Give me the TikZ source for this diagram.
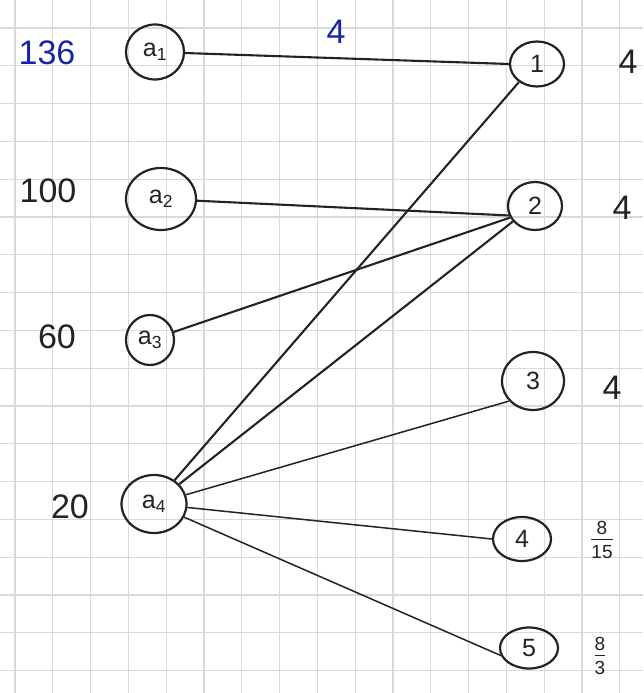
\documentclass[tikz,border=0pt]{standalone}
\usepackage{fontspec}
\setmainfont{Liberation Sans}
\usetikzlibrary{shapes.geometric}
\definecolor{gridc}{RGB}{214,218,224}
\definecolor{ink}{RGB}{35,35,35}
\definecolor{blueink}{RGB}{25,35,165}
\begin{document}
\begin{tikzpicture}[x=1pt,y=-1pt,
  vert/.style={draw=ink, ellipse, line width=2.2pt, inner sep=0pt, text=ink, font=\fontsize{25}{27}\selectfont},
  edge/.style={draw=ink, line width=2.1pt},
  thinedge/.style={draw=ink, line width=1.5pt},
  lab/.style={text=ink, font=\fontsize{34}{38}\selectfont},
  bluelab/.style={text=blueink, font=\fontsize{34}{38}\selectfont},
  fraclab/.style={text=ink, font=\fontsize{19}{21}\selectfont, inner sep=0pt},
  gridline/.style={draw=gridc, line width=1.3pt}
]
\useasboundingbox (0,0) rectangle (643,693);
\fill[white] (0,0) rectangle (643,693);
\foreach \k in {0,...,16} \draw[gridline] ({15+37.8*\k},0) -- ({15+37.8*\k},693);
\foreach \k in {0,...,17} \draw[gridline] (0,{28+37.8*\k}) -- (643,{28+37.8*\k});

% left vertices
\node[vert, minimum width=58, minimum height=55] (a1) at (155,52) {a\textsubscript{1}};
\node[vert, minimum width=70, minimum height=62] (a2) at (161,199) {a\textsubscript{2}};
\node[vert, minimum width=48, minimum height=50] (a3) at (150,340) {a\textsubscript{3}};
\node[vert, minimum width=65, minimum height=58] (a4) at (154,504) {a\textsubscript{4}};
% right vertices
\node[vert, minimum width=54, minimum height=45] (n1) at (537,64) {1};
\node[vert, minimum width=54, minimum height=48] (n2) at (535,206) {2};
\node[vert, minimum width=62, minimum height=58] (n3) at (533,381) {3};
\node[vert, minimum width=58, minimum height=44] (n4) at (522,539) {4};
\node[vert, minimum width=58, minimum height=41] (n5) at (529,648) {5};

% labels
\node[bluelab] (l136) at (47,53) {136};
\node[bluelab] (lw) at (336,32) {4};
\node[lab] (l100) at (48,191) {100};
\node[lab] (l60) at (57,337) {60};
\node[lab] (l20) at (70,507) {20};
\node[lab] (r1) at (628,62) {4};
\node[lab] (r2) at (622,208) {4};
\node[lab] (r3) at (612,388) {4};
\node[fraclab] (r4) at (602,542) {\begin{tabular}{@{}c@{}}8\\[-2pt]\hline\rule{0pt}{19pt}15\end{tabular}};
\node[fraclab] (r5) at (600,658) {\begin{tabular}{@{}c@{}}8\\[-2pt]\hline\rule{0pt}{19pt}3\end{tabular}};

% edges
\draw[edge] (a1) -- (n1.west);
\draw[edge] (a2) -- (n2.200);
\draw[edge] (a3) -- (n2.205);
\draw[edge] (a4) -- (n1.225);
\draw[edge] (a4) -- (n2.215);
\draw[thinedge] (a4) -- (n3.220);
\draw[thinedge] (a4) -- (n4.west);
\draw[thinedge] (a4) -- (n5.195);
\end{tikzpicture}
\end{document}
